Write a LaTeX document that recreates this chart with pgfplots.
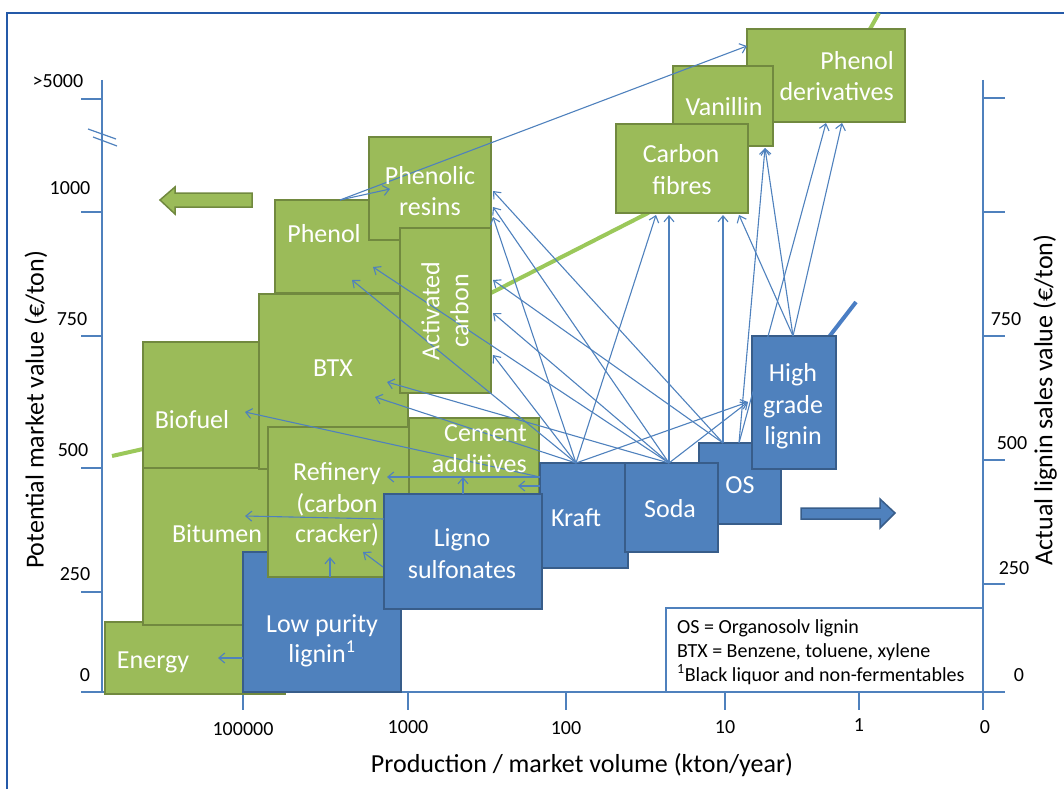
\documentclass[border=0pt]{standalone}
\usepackage{fontspec}
\setmainfont{Carlito}
\usepackage{pgfplots}
\pgfplotsset{compat=1.18}
\usetikzlibrary{arrows.meta}
\definecolor{gfill}{HTML}{9BBB59}
\definecolor{gline}{HTML}{71893F}
\definecolor{bfill}{HTML}{4F81BD}
\definecolor{bline}{HTML}{385D8A}
\definecolor{arr}{HTML}{4F81BD}
\definecolor{tgreen}{HTML}{9BC85A}
\definecolor{tblue}{HTML}{4A7EC4}
\definecolor{framec}{HTML}{2459A8}
\newcommand{\gbox}[4]{\addplot[fill=gfill, draw=gline, line width=2pt] coordinates {(#1,#2) (#3,#2) (#3,#4) (#1,#4)} -- cycle;}
\newcommand{\bbox}[4]{\addplot[fill=bfill, draw=bline, line width=2pt] coordinates {(#1,#2) (#3,#2) (#3,#4) (#1,#4)} -- cycle;}
\newcommand{\arw}[4]{\addplot[draw=arr, line width=1.1pt, -{Straight Barb[length=6pt,width=10pt]}] coordinates {(#1,#2) (#3,#4)};}
\newcommand{\bl}{\fontsize{26}{31}\selectfont}
\newcommand{\tk}{\fontsize{20}{24}\selectfont}
\tikzset{
  lb/.style={text=white, font=\bl, inner sep=0pt, anchor=base},
  lbe/.style={text=white, font=\bl, inner sep=0pt, anchor=base east},
  tl/.style={font=\tk, inner sep=0pt, anchor=center},
}
\begin{document}
\begin{tikzpicture}
\begin{axis}[
  width=1064pt, height=789pt, scale only axis,
  xmin=0, xmax=1064, ymin=0, ymax=789, y dir=reverse,
  hide axis, clip=false, no markers,
]
% frame
\addplot[draw=framec, line width=2.5pt] coordinates {(7,789) (7,13) (1064,13)};
% axes
\addplot[draw=arr, line width=1.4pt] coordinates {(102,80) (102,692)};
\addplot[draw=arr, line width=1.4pt] coordinates {(983,80) (983,710)};
\addplot[draw=arr, line width=1.4pt] coordinates {(81,692) (1005,692)};
\addplot[draw=arr, line width=1.4pt] coordinates {(81,99) (102,99)};
\addplot[draw=arr, line width=1.4pt] coordinates {(81,212) (102,212)};
\addplot[draw=arr, line width=1.4pt] coordinates {(81,336) (102,336)};
\addplot[draw=arr, line width=1.4pt] coordinates {(81,468) (102,468)};
\addplot[draw=arr, line width=1.4pt] coordinates {(81,592) (102,592)};
\addplot[draw=arr, line width=1.4pt] coordinates {(983,98) (1005,98)};
\addplot[draw=arr, line width=1.4pt] coordinates {(983,212) (1005,212)};
\addplot[draw=arr, line width=1.4pt] coordinates {(983,336) (1005,336)};
\addplot[draw=arr, line width=1.4pt] coordinates {(983,460) (1005,460)};
\addplot[draw=arr, line width=1.4pt] coordinates {(983,584) (1005,584)};
\addplot[draw=arr, line width=1.4pt] coordinates {(243,692) (243,710)};
\addplot[draw=arr, line width=1.4pt] coordinates {(408,692) (408,710)};
\addplot[draw=arr, line width=1.4pt] coordinates {(566,692) (566,710)};
\addplot[draw=arr, line width=1.4pt] coordinates {(725,692) (725,710)};
\addplot[draw=arr, line width=1.4pt] coordinates {(859,692) (859,710)};
% axis break
\addplot[draw=arr, line width=1.2pt] coordinates {(88,129) (116,139)};
\addplot[draw=arr, line width=1.2pt] coordinates {(93,137) (117,146)};
% tick labels
\node[tl] at (58,81) {>5000};
\node[tl] at (70,188) {1000};
\node[tl] at (72,319) {750};
\node[tl] at (73,450) {500};
\node[tl] at (75,574) {250};
\node[tl] at (85,675) {0};
\node[tl] at (1006,319) {750};
\node[tl] at (1012,443) {500};
\node[tl] at (1014,568) {250};
\node[tl] at (1019,675) {0};
\node[tl] at (243,729) {100000};
\node[tl] at (408,727) {1000};
\node[tl] at (566,728) {100};
\node[tl] at (725,727) {10};
\node[tl] at (859,725) {1};
\node[tl] at (985,727) {0};
% axis titles
\node[font=\bl, inner sep=0pt] at (582,765) {Production / market volume (kton/year)};
\node[font=\bl, inner sep=0pt, rotate=90] at (36,410) {Potential market value (€/ton)};
\node[font=\bl, inner sep=0pt, rotate=90] at (1045,400) {Actual lignin sales value (€/ton)};
% trend lines (behind boxes)
\addplot[draw=tgreen, line width=4pt] coordinates {(112,456) (143,449) (491,293) (648,213) (870,29) (879,13)};
\addplot[draw=tblue, line width=4pt] coordinates {(815,355) (856,302)};
% green boxes
\gbox{105}{622}{285}{694}
\gbox{143}{468}{270}{625}
\gbox{143}{342}{262}{468}
\bbox{243}{552}{401}{692}
\gbox{259}{294}{408}{469}
\gbox{268}{427}{409}{577}
\gbox{275}{200}{402}{293}
\gbox{369}{137}{491}{240}
\gbox{400}{228}{491}{393}
\gbox{409}{418}{539}{494}
\gbox{747}{29}{905}{122}
\gbox{673}{66}{773}{146}
\gbox{616}{124}{748}{213}
% blue boxes
\bbox{540}{463}{628}{568}
\bbox{699}{443}{781}{524}
\bbox{384}{494}{542}{609}
\bbox{625}{463}{718}{552}
\bbox{752}{336}{836}{469}
% big arrows
\addplot[fill=gfill, draw=gline, line width=1.5pt] coordinates {(252,193) (175,193) (175,187) (160,200) (175,214) (175,207) (252,207)} -- cycle;
\addplot[fill=bfill, draw=bline, line width=1.5pt] coordinates {(801,508) (880,508) (880,499) (895,513) (880,528) (880,519) (801,519)} -- cycle;
% legend box
\addplot[fill=white, draw=arr, line width=1.2pt] coordinates {(666,608) (983,608) (983,692) (666,692)} -- cycle;
\node[font=\tk, inner sep=0pt, anchor=base west] at (677,633) {OS = Organosolv lignin};
\node[font=\tk, inner sep=0pt, anchor=base west] at (677,657) {BTX = Benzene, toluene, xylene};
\node[font=\tk, inner sep=0pt, anchor=base west] at (677,681) {\textsuperscript{1}Black liquor and non-fermentables};
% thin arrows
\arw{340}{200}{390}{189}
\arw{340}{200}{747}{46}
\arw{243}{658}{218}{658}
\arw{330}{577}{330}{557}
\arw{383}{567}{363}{552}
\arw{384}{519}{245}{516}
\arw{463}{494}{463}{477}
\arw{540}{477}{245}{412}
\arw{540}{477}{387}{477}
\arw{540}{486}{518}{486}
\arw{576}{463}{352}{280}
\arw{576}{463}{375}{397}
\arw{576}{463}{493}{217}
\arw{576}{463}{493}{355}
\arw{576}{463}{656}{215}
\arw{576}{463}{748}{402}
\arw{669}{463}{373}{267}
\arw{669}{463}{387}{382}
\arw{669}{463}{493}{207}
\arw{669}{463}{493}{313}
\arw{669}{463}{669}{215}
\arw{669}{463}{748}{402}
\arw{723}{443}{493}{191}
\arw{723}{443}{493}{280}
\arw{723}{443}{723}{215}
\arw{739}{443}{765}{148}
\arw{739}{443}{826}{123}
\arw{793}{336}{739}{215}
\arw{793}{336}{765}{148}
\arw{793}{336}{842}{123}
% box labels
\node[lb] at (153,668) {Energy};
\node[lb] at (217,542) {Bitumen};
\node[lb] at (192,428) {Biofuel};
\node[lb] at (333,376) {BTX};
\node[lb] at (324,242) {Phenol};
\node[lb] at (430,184) {Phenolic};
\node[lb] at (430,215) {resins};
\node[text=white, font=\fontsize{26}{29}\selectfont, inner sep=0pt, rotate=90, align=center] at (445,311) {Activated\\carbon};
\node[lb] at (337,480) {Refinery};
\node[lb] at (337,512) {(carbon};
\node[lb] at (337,542) {cracker)};
\node[lbe] at (527,441) {Cement};
\node[lbe] at (527,472) {additives};
\node[lb] at (322,632) {Low purity};
\node[lb] at (322,662) {lignin\textsuperscript{1}};
\node[lb] at (462,546) {Ligno};
\node[lb] at (462,578) {sulfonates};
\node[lb] at (576,526) {Kraft};
\node[lb] at (670,517) {Soda};
\node[lb] at (740,493) {OS};
\node[lb] at (793,381) {High};
\node[lb] at (793,413) {grade};
\node[lb] at (793,444) {lignin};
\node[lb] at (681,162) {Carbon};
\node[lb] at (682,194) {fibres};
\node[lb] at (724,116) {Vanillin};
\node[lbe] at (894,70) {Phenol};
\node[lbe] at (894,101) {derivatives};
\end{axis}
\pgfresetboundingbox
\path[use as bounding box] (current axis.south west) rectangle (current axis.north east);
\end{tikzpicture}
\end{document}
